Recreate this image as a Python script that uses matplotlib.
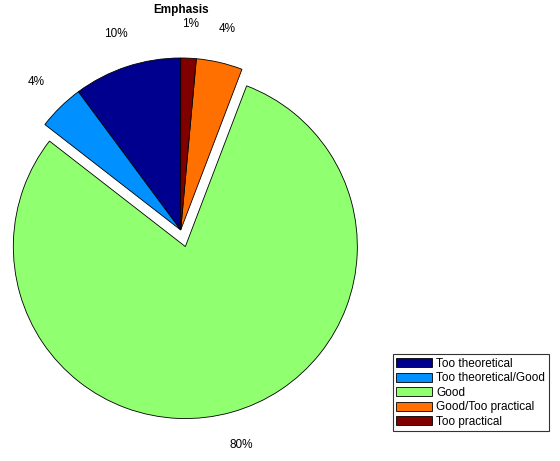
import matplotlib
matplotlib.use('Agg')
import matplotlib.pyplot as plt

# survey answers (counts)
categories = ['Too theoretical', 'Too theoretical/Good', 'Good', 'Good/Too practical', 'Too practical']
counts = [7, 3, 55, 3, 1]
explode = [0, 0, 0.1, 0, 0]
colors = ['#00008F', '#0090FF', '#90FF70', '#FF7000', '#800000']

plt.rcParams['font.family'] = ['Liberation Sans', 'DejaVu Sans']

total = float(sum(counts))
pct_labels = ['%d%%' % round(100 * c / total) for c in counts]

W, H = 560, 461
fig = plt.figure(figsize=(W / 100.0, H / 100.0), dpi=100)
ax = fig.add_axes([0, 0, 1, 1])

# pie centre at pixel (180.7, 230), radius 172 px
cx, cy, R = 180.7, 230.0, 172.0

wedges, texts = ax.pie(counts, explode=explode, colors=colors, labels=pct_labels,
                       startangle=90, counterclock=True, labeldistance=1.2,
                       radius=1, frame=True,
                       wedgeprops=dict(edgecolor='black', linewidth=0.6),
                       textprops=dict(fontsize=8.5))
ax.set_xlim(-cx / R, (W - cx) / R)
ax.set_ylim(-(H - cy) / R, cy / R)
ax.set_aspect('auto')
ax.axis('off')
for t in texts:
    t.set_ha('center')
    t.set_va('center')

fig.text(cx / W, 1 - 10.5 / H, 'Emphasis', ha='center', va='center',
         fontsize=8.5, fontweight='bold')

leg = fig.legend(wedges, categories, loc='upper left',
                 bbox_to_anchor=(392.7 / W, 1 - 354.0 / H),
                 fontsize=8.5, frameon=True, fancybox=False,
                 edgecolor='black', borderaxespad=0, borderpad=0.3,
                 labelspacing=0.22, handlelength=3.0, handleheight=0.8,
                 handletextpad=0.4)
leg.get_frame().set_linewidth(0.8)

fig.savefig('out.png', dpi=100)
